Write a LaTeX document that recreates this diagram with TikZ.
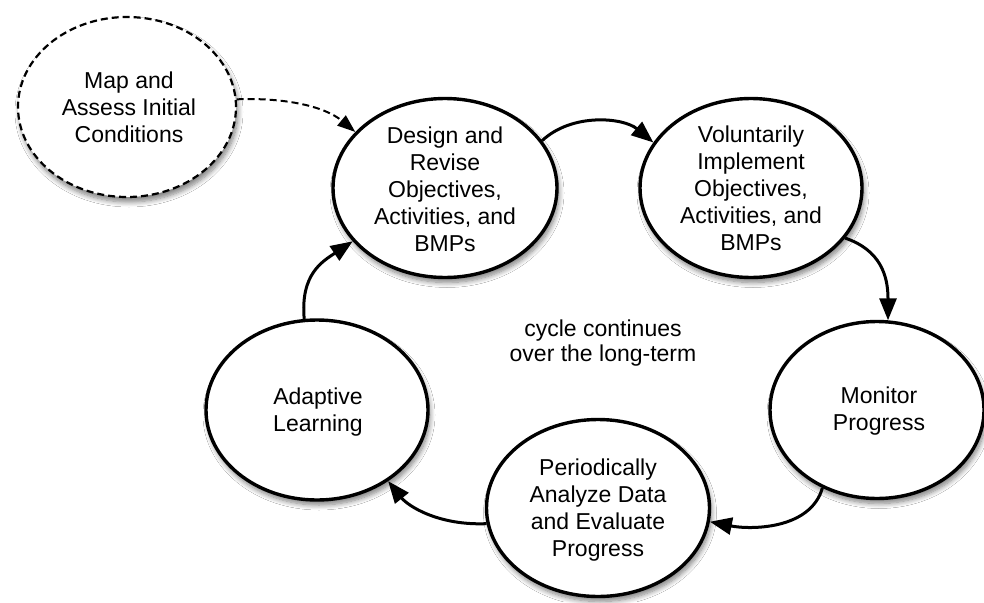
\documentclass[tikz,border=0pt]{standalone}
\usepackage{fontspec}
\setmainfont{Liberation Sans}
\usetikzlibrary{shapes.geometric,arrows.meta,shadows.blur}
\begin{document}
\begin{tikzpicture}[x=1pt,y=-1pt,
  bub/.style={ellipse,draw=black,line width=3.4pt,fill=white,inner sep=0pt,
    blur shadow={shadow xshift=2pt,shadow yshift=-5pt,shadow blur radius=5pt,shadow blur steps=8,shadow opacity=50}},
  dbub/.style={bub,line width=2.2pt,dash pattern=on 7pt off 4pt},
  txt/.style={align=center,font=\fontsize{23}{27}\selectfont,inner sep=0pt},
  flow/.style={line width=3pt,-{Triangle[length=22pt,width=17pt]}},
  dflow/.style={line width=2pt,dash pattern=on 7pt off 4pt,-{Triangle[length=18pt,width=13pt]}}]
\fill[white] (0,0) rectangle (984,602);
\useasboundingbox (0,0) rectangle (984,602);

\node[dbub,minimum width=218pt,minimum height=180pt] (m) at (127,107) {};
\node[bub,minimum width=224pt,minimum height=179pt] (d) at (445,188) {};
\node[bub,minimum width=222pt,minimum height=179pt] (v) at (751,188) {};
\node[bub,minimum width=214pt,minimum height=177pt] (mo) at (877,410) {};
\node[bub,minimum width=223pt,minimum height=177pt] (p) at (598,508) {};
\node[bub,minimum width=222pt,minimum height=180pt] (a) at (317,410) {};

\node[txt] (mt) at (129,107) {Map and\\Assess Initial\\Conditions};
\node[txt] (dt) at (445,189) {Design and\\Revise\\Objectives,\\Activities, and\\BMPs};
\node[txt] (vt) at (751,188) {Voluntarily\\Implement\\Objectives,\\Activities, and\\BMPs};
\node[txt] (mot) at (879,411) {Monitor\\Progress};
\node[txt] (pt) at (598,510) {Periodically\\Analyze Data\\and Evaluate\\Progress};
\node[txt] (at) at (318,412) {Adaptive\\Learning};
\node[txt,font=\fontsize{23}{25}\selectfont] (ct) at (603,343) {cycle continues\\over the long-term};

\draw[dflow] (m.4) .. controls +(50,-2) and +(-30,-25) .. (d.148);
\draw[flow] (d.26) .. controls +(30,-28) and +(-30,-25) .. (v.155);
\draw[flow] (v.-28) .. controls +(35,12) and +(0,-45) .. (mo.83);
\draw[flow] (mo.235) .. controls +(-12,42) and +(40,8) .. (p.-7);
\draw[flow] (p.188) .. controls +(-48,2) and +(20,25) .. (a.-45);
\draw[flow] (a.98) .. controls +(-4,-45) and +(-30,20) .. (d.210);
\end{tikzpicture}
\end{document}
